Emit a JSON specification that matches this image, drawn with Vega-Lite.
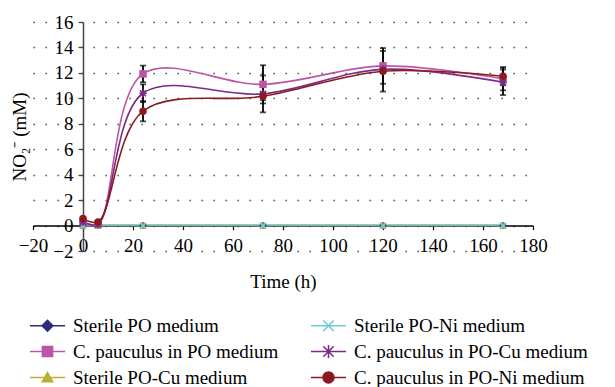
{
  "$schema": "https://vega.github.io/schema/vega-lite/v6.json",
  "width": 500,
  "height": 229,
  "autosize": "none",
  "padding": {"left": 33, "top": 22, "right": 82, "bottom": 136},
  "background": "white",
  "config": {"view": {"stroke": null}, "font": "Liberation Serif", "axis": {"titleFontWeight": 400}},
  "resolve": {"scale": {"color": "independent", "shape": "independent"}},
  "data": {
    "values": [
      {"s": "Sterile PO medium", "t": 0, "v": 0, "e": 0},
      {"s": "Sterile PO medium", "t": 6, "v": 0, "e": 0},
      {"s": "Sterile PO medium", "t": 24, "v": 0, "e": 0},
      {"s": "Sterile PO medium", "t": 72, "v": 0, "e": 0},
      {"s": "Sterile PO medium", "t": 120, "v": 0, "e": 0},
      {"s": "Sterile PO medium", "t": 168, "v": 0, "e": 0},
      {"s": "Sterile PO-Cu medium", "t": 0, "v": 0, "e": 0},
      {"s": "Sterile PO-Cu medium", "t": 6, "v": 0, "e": 0},
      {"s": "Sterile PO-Cu medium", "t": 24, "v": 0, "e": 0},
      {"s": "Sterile PO-Cu medium", "t": 72, "v": 0, "e": 0},
      {"s": "Sterile PO-Cu medium", "t": 120, "v": 0, "e": 0},
      {"s": "Sterile PO-Cu medium", "t": 168, "v": 0, "e": 0},
      {"s": "Sterile PO-Ni medium", "t": 0, "v": 0, "e": 0},
      {"s": "Sterile PO-Ni medium", "t": 6, "v": 0, "e": 0},
      {"s": "Sterile PO-Ni medium", "t": 24, "v": 0, "e": 0},
      {"s": "Sterile PO-Ni medium", "t": 72, "v": 0, "e": 0},
      {"s": "Sterile PO-Ni medium", "t": 120, "v": 0, "e": 0},
      {"s": "Sterile PO-Ni medium", "t": 168, "v": 0, "e": 0},
      {"s": "C. pauculus in PO medium", "t": 0, "v": 0.3, "e": 0},
      {"s": "C. pauculus in PO medium", "t": 6, "v": 0.1, "e": 0},
      {"s": "C. pauculus in PO medium", "t": 24, "v": 11.92, "e": 0.65},
      {"s": "C. pauculus in PO medium", "t": 72, "v": 11.1, "e": 1.5},
      {"s": "C. pauculus in PO medium", "t": 120, "v": 12.55, "e": 1.4},
      {"s": "C. pauculus in PO medium", "t": 168, "v": 11.53, "e": 0.9},
      {"s": "C. pauculus in PO-Cu medium", "t": 0, "v": 0.3, "e": 0},
      {"s": "C. pauculus in PO-Cu medium", "t": 6, "v": 0.1, "e": 0},
      {"s": "C. pauculus in PO-Cu medium", "t": 24, "v": 10.4, "e": 0.7},
      {"s": "C. pauculus in PO-Cu medium", "t": 72, "v": 10.35, "e": 1.45},
      {"s": "C. pauculus in PO-Cu medium", "t": 120, "v": 12.28, "e": 0.3},
      {"s": "C. pauculus in PO-Cu medium", "t": 168, "v": 11.26, "e": 1.0},
      {"s": "C. pauculus in PO-Ni medium", "t": 0, "v": 0.55, "e": 0},
      {"s": "C. pauculus in PO-Ni medium", "t": 6, "v": 0.28, "e": 0},
      {"s": "C. pauculus in PO-Ni medium", "t": 24, "v": 8.99, "e": 0.8},
      {"s": "C. pauculus in PO-Ni medium", "t": 72, "v": 10.16, "e": 0.3},
      {"s": "C. pauculus in PO-Ni medium", "t": 120, "v": 12.13, "e": 1.6},
      {"s": "C. pauculus in PO-Ni medium", "t": 168, "v": 11.73, "e": 0.7}
    ]
  },
  "encoding": {
    "x": {
      "field": "t", "type": "quantitative",
      "scale": {"domain": [-20, 180], "nice": false, "zero": false},
      "axis": {
        "values": [-20, 0, 20, 40, 60, 80, 100, 120, 140, 160, 180],
        "offset": -25.4, "grid": false,
        "domainColor": "black", "domainWidth": 1.5,
        "tickColor": "black", "tickSize": 4, "tickWidth": 1.2,
        "labelFont": "Liberation Serif", "labelFontSize": 19, "labelColor": "black",
        "labelPadding": 7, "labelFlush": false, "labelOverlap": false,
        "title": "Time (h)", "titleFont": "Liberation Serif", "titleFontSize": 19,
        "titleFontWeight": 400, "titleColor": "black", "titlePadding": 17
      }
    },
    "y": {
      "field": "v", "type": "quantitative",
      "scale": {"domain": [-2, 16], "nice": false, "zero": false},
      "axis": {
        "values": [-2, 0, 2, 4, 6, 8, 10, 12, 14, 16],
        "offset": -50, "grid": true,
        "gridColor": "#333333", "gridDash": [1.3, 10.7], "gridWidth": 1.3,
        "domainColor": "#444444", "domainWidth": 1.5,
        "tickColor": "#444444", "tickSize": 5, "tickWidth": 1.2,
        "labelFont": "Liberation Serif", "labelFontSize": 19, "labelColor": "black",
        "labelPadding": 5, "labelOverlap": false, "labelFlush": false,
        "title": "NO₂⁻ (mM)", "titleFont": "Liberation Serif", "titleFontSize": 19,
        "titleFontWeight": 400, "titleColor": "black", "titlePadding": 23
      }
    }
  },
  "layer": [
    {
      "transform": [{"filter": "datum.e > 0"}],
      "mark": {"type": "errorbar", "color": "black", "thickness": 1.8, "ticks": {"size": 6, "thickness": 1.8}},
      "encoding": {"yError": {"field": "e"}}
    },
    {
      "mark": {"type": "line", "interpolate": "catmull-rom", "strokeWidth": 1.6},
      "encoding": {
        "color": {
          "field": "s", "type": "nominal",
          "scale": {
            "domain": ["Sterile PO medium", "C. pauculus in PO medium", "Sterile PO-Cu medium", "Sterile PO-Ni medium", "C. pauculus in PO-Cu medium", "C. pauculus in PO-Ni medium"],
            "range": ["#2E2D7A", "#BB55A8", "#B7B030", "#66B9B3", "#7B2C82", "#8B1A1F"]
          },
          "legend": null
        }
      }
    },
    {
      "mark": {"type": "point", "filled": true, "size": 56, "opacity": 1},
      "encoding": {
        "color": {
          "field": "s", "type": "nominal",
          "scale": {
            "domain": ["Sterile PO medium", "C. pauculus in PO medium", "Sterile PO-Cu medium", "Sterile PO-Ni medium", "C. pauculus in PO-Cu medium", "C. pauculus in PO-Ni medium"],
            "range": ["#2E2D7A", "#BB55A8", "#B7B030", "#6CC4D6", "#7B2C82", "#8B1A1F"]
          },
          "legend": null
        },
        "shape": {
          "field": "s", "type": "nominal",
          "scale": {
            "domain": ["Sterile PO medium", "C. pauculus in PO medium", "Sterile PO-Cu medium", "Sterile PO-Ni medium", "C. pauculus in PO-Cu medium", "C. pauculus in PO-Ni medium"],
            "range": ["diamond", "square", "triangle-up", "M-0.644,-0.956L0.956,0.644L0.644,0.956L-0.956,-0.644ZM-0.956,0.644L0.644,-0.956L0.956,-0.644L-0.644,0.956Z", "M-0.644,-0.956L0.956,0.644L0.644,0.956L-0.956,-0.644ZM-0.956,0.644L0.644,-0.956L0.956,-0.644L-0.644,0.956ZM-0.22,-1H0.22V1H-0.22ZM-1,-0.22H1V0.22H-1Z", "circle"]
          },
          "legend": null
        }
      }
    },
    {
      "transform": [{"filter": "datum.e < 0"}],
      "mark": {"type": "point", "filled": true, "opacity": 1},
      "encoding": {
        "color": {
          "field": "s", "type": "nominal",
          "scale": {
            "domain": ["Sterile PO medium", "C. pauculus in PO medium", "Sterile PO-Cu medium", "Sterile PO-Ni medium", "C. pauculus in PO-Cu medium", "C. pauculus in PO-Ni medium"],
            "range": ["#2E2D7A", "#BB55A8", "#B7B030", "#72C9D8", "#7B2C82", "#8B1A1F"]
          },
          "legend": {
            "orient": "none", "legendX": -6, "legendY": 294, "columns": 2, "title": null,
            "labelFont": "Liberation Serif", "labelFontSize": 19, "labelColor": "black",
            "symbolSize": 169, "symbolOffset": 11, "labelOffset": 16, "columnPadding": 29,
            "rowPadding": 6, "labelLimit": 400, "symbolOpacity": 1, "symbolStrokeWidth": 0
          }
        },
        "shape": {
          "field": "s", "type": "nominal",
          "scale": {
            "domain": ["Sterile PO medium", "C. pauculus in PO medium", "Sterile PO-Cu medium", "Sterile PO-Ni medium", "C. pauculus in PO-Cu medium", "C. pauculus in PO-Ni medium"],
            "range": [
              "M-2.7,-0.13H2.7V0.13H-2.7ZM0,-1L1,0L0,1L-1,0Z",
              "M-2.7,-0.13H2.7V0.13H-2.7ZM-0.9,-0.9H0.9V0.9H-0.9Z",
              "M-2.7,-0.13H2.7V0.13H-2.7ZM0,-1L1,0.75H-1Z",
              "M-2.7,-0.13H2.7V0.13H-2.7ZM-0.715,-0.885L0.885,0.715L0.715,0.885L-0.885,-0.715ZM-0.885,0.715L0.715,-0.885L0.885,-0.715L-0.715,0.885Z",
              "M-2.7,-0.13H2.7V0.13H-2.7ZM-0.715,-0.885L0.885,0.715L0.715,0.885L-0.885,-0.715ZM-0.885,0.715L0.715,-0.885L0.885,-0.715L-0.715,0.885ZM-0.12,-1H0.12V1H-0.12Z",
              "M-2.7,-0.13H2.7V0.13H-2.7ZM0.95,0A0.95,0.95 0 1,1 -0.95,0A0.95,0.95 0 1,1 0.95,0Z"
            ]
          },
          "legend": {
            "orient": "none", "legendX": -6, "legendY": 294, "columns": 2, "title": null,
            "labelFont": "Liberation Serif", "labelFontSize": 19, "labelColor": "black",
            "symbolSize": 169, "symbolOffset": 11, "labelOffset": 16, "columnPadding": 29,
            "rowPadding": 6, "labelLimit": 400, "symbolOpacity": 1, "symbolStrokeWidth": 0
          }
        }
      }
    }
  ]
}
